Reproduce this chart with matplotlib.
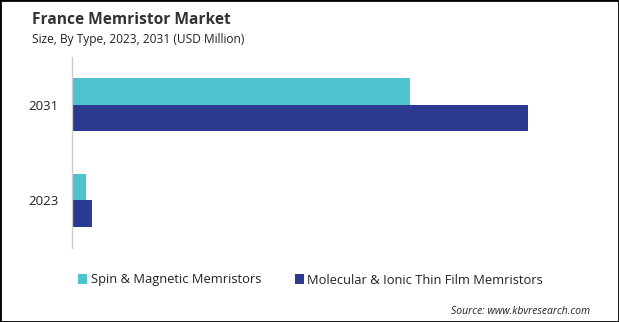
import matplotlib

matplotlib.use("Agg")

import matplotlib.pyplot as plt
from matplotlib.patches import Rectangle

plt.rcParams["font.family"] = ["Open Sans", "DejaVu Sans"]

# data (USD Million)
years = ["2031", "2023"]
spin_magnetic = [33.8, 1.4]
molecular_ionic = [45.6, 2.0]
series_names = ["Spin & Magnetic Memristors", "Molecular & Ionic Thin Film Memristors"]
colors = ["#4EC3CE", "#2B3990"]

fig = plt.figure(figsize=(6.19, 3.22), dpi=100)
ax = fig.add_axes([72 / 619, 1 - 248 / 322, 520 / 619, 191 / 322])

positions = list(range(len(years)))
bar_h = 0.28
ax.barh([p - bar_h / 2 for p in positions], spin_magnetic, height=bar_h,
        color=colors[0], label=series_names[0])
ax.barh([p + bar_h / 2 for p in positions], molecular_ionic, height=bar_h,
        color=colors[1], label=series_names[1])

ax.set_ylim(1.5, -0.5)
ax.set_xlim(0, 52)
ax.set_yticks(positions, years)
ax.tick_params(axis="y", length=0, pad=10, labelsize=9.5, labelcolor="#222222")
ax.set_xticks([])
for side in ["top", "right", "bottom"]:
    ax.spines[side].set_visible(False)
ax.spines["left"].set_color("#cccccc")
ax.spines["left"].set_linewidth(1)

fig.text(32 / 619, 1 - 20 / 322, "France Memristor Market", fontsize=11.2,
         fontweight="bold", color="#333333", va="center")
fig.text(32 / 619, 1 - 40 / 322, "Size, By Type, 2023, 2031 (USD Million)",
         fontsize=8.6, color="#222222", va="center")

ax.legend(loc="center left", bbox_to_anchor=(66 / 619, 1 - 280 / 322),
          bbox_transform=fig.transFigure, ncol=2, frameon=False, fontsize=9.3,
          handlelength=0.7, handleheight=0.7, handletextpad=0.3, columnspacing=2.6,
          labelcolor="#222222")

fig.text(590 / 619, 1 - 311 / 322, "Source: www.kbvresearch.com", fontsize=7.5,
         style="italic", color="#222222", ha="right", va="center")

fig.patches.append(Rectangle((0, 0), 1, 1, transform=fig.transFigure, fill=False,
                             edgecolor="black", linewidth=2))

fig.savefig("out.png", dpi=100)
